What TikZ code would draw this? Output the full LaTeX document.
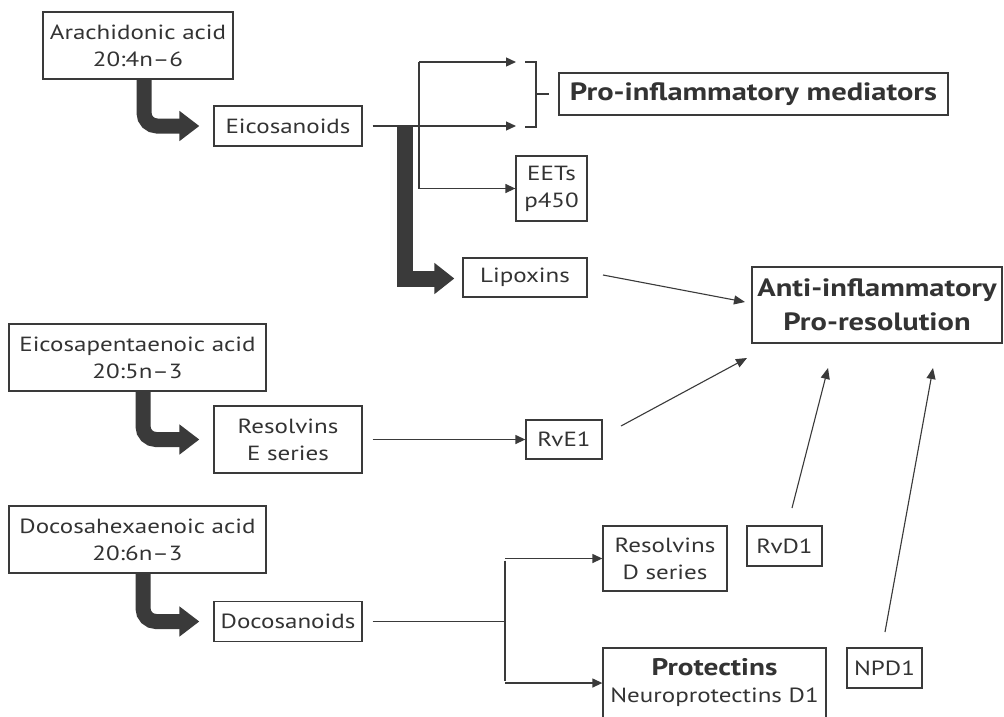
\documentclass[tikz,border=0pt]{standalone}
\usepackage{fontspec}
\setmainfont{PT Sans}[FakeStretch=1.22]
\usetikzlibrary{arrows.meta}
\definecolor{ink}{HTML}{3A3A3A}
\definecolor{txt}{HTML}{333333}

\begin{document}
\begin{tikzpicture}[x=1pt,y=-1pt,
  box/.style={draw=ink, line width=1.3pt, text=txt, align=center, inner sep=0pt,
    font=\fontsize{20.5}{27}\selectfont},
  boldbox/.style={box, font=\fontsize{25}{34}\selectfont\bfseries},
  conn/.style={draw=ink, line width=1.3pt, -{Triangle[length=10pt,width=9pt]}},
  slim/.style={draw=ink, line width=1.1pt, -{Triangle[length=11pt,width=9pt]}},
  plain/.style={draw=ink, line width=1.3pt},
  fat/.style={draw=ink, line width=15pt, rounded corners=13pt,
    -{Triangle[length=20pt,width=29pt]}},
  fatsquare/.style={draw=ink, line width=16pt, line join=miter,
    -{Triangle[length=20pt,width=30pt]}}]

\useasboundingbox (0,0) rectangle (1004,716);
\fill[white] (0,0) rectangle (1004,716);
\clip (0,0) rectangle (1004,716);

% ---------- boxes ----------
\node[box, minimum width=190pt, minimum height=67pt] (ara) at (138,45.5) {Arachidonic acid\\20:4n–6};
\node[box, minimum width=148pt, minimum height=40pt] (eic) at (288,126) {Eicosanoids};
\node[boldbox, minimum width=389pt, minimum height=42pt] (pro) at (753.5,94) {Pro-inflammatory mediators};
\node[box, minimum width=71pt, minimum height=65pt] (eets) at (551.5,188.5) {EETs\\p450};
\node[box, minimum width=124pt, minimum height=39pt] (lip) at (525,277.5) {Lipoxins};
\node[boldbox, minimum width=250pt, minimum height=76pt] (anti) at (877,305) {Anti-inflammatory\\Pro-resolution};

\node[box, minimum width=257pt, minimum height=67pt] (epa) at (137.5,357.5) {Eicosapentaenoic acid\\20:5n–3};
\node[box, minimum width=148pt, minimum height=67pt] (rese) at (288,439.5) {Resolvins\\E series};
\node[box, minimum width=76pt, minimum height=39pt] (rve) at (564,439.5) {RvE1};

\node[box, minimum width=257pt, minimum height=67pt] (dha) at (137.5,539.5) {Docosahexaenoic acid\\20:6n–3};
\node[box, minimum width=148pt, minimum height=40pt] (doc) at (288,621.5) {Docosanoids};
\node[box, minimum width=124pt, minimum height=65pt] (resd) at (665,558.5) {Resolvins\\D series};
\node[box, minimum width=75pt, minimum height=40pt] (rvd) at (784.5,546) {RvD1};
\node[box, minimum width=223pt, minimum height=70pt] (prot) at (714.5,683)
  {{\fontsize{24}{28}\selectfont\bfseries Protectins}\\Neuroprotectins D1};
\node[box, minimum width=75pt, minimum height=40pt] (npd) at (884.5,668) {NPD1};

% ---------- thick conversion arrows ----------
\draw[fat] (ara.south -| 144,0) -- (144,126) -- ([xshift=-14pt]eic.west);
\draw[fat] (epa.south -| 143,0) -- (143,439.5) -- ([xshift=-14pt]rese.west);
\draw[fat] (dha.south -| 143,0) -- (143,621.5) -- ([xshift=-14pt]doc.west);
\draw[fatsquare] (405,126) -- (405,278.5) -- ([xshift=-8pt]lip.west |- 0,278.5);

% ---------- eicosanoid branches ----------
\coordinate (t1) at (419,62);
\coordinate (t3) at (419,188.5);
\coordinate (p1) at (516,62);
\coordinate (p2) at (516,126);
\draw[conn] ([xshift=10pt]eic.east) -- (p2);
\draw[plain] (t1) -- (t3);
\draw[conn] (t1) -- (p1);
\draw[conn] (t3) -- (eets.west);

% bracket grouping the two upper outputs
\coordinate (b1) at (525,62);
\coordinate (b2) at (536,62);
\coordinate (b3) at (536,127);
\coordinate (b4) at (525,127);
\coordinate (bm) at (536,94);
\coordinate (bt) at (549,94);
\draw[plain] (b1) -- (b2) -- (b3) -- (b4);
\draw[plain] (bm) -- (bt);

% ---------- resolvin E ----------
\draw[conn] ([xshift=10pt]rese.east) -- (rve.west);

% ---------- docosanoid branches ----------
\coordinate (d0) at (505,621.5);
\coordinate (d1) at (505,558.5);
\coordinate (d2) at (505,683);
\draw[plain] ([xshift=10pt]doc.east) -- (d0);
\draw[plain] ([yshift=-2pt]d1) -- ([yshift=2pt]d2);
\draw[conn] (d1) -- (resd.west);
\draw[conn] (d2) -- (prot.west);

% ---------- pro-resolving arrows ----------
\coordinate (l0) at (603,275);
\coordinate (l1) at (745,302);
\coordinate (e0) at (621,426);
\coordinate (e1) at (747,358);
\coordinate (r0) at (792,508);
\coordinate (r1) at (828,368);
\coordinate (n0) at (885,632);
\coordinate (n1) at (933,368);
\draw[slim] (l0) -- (l1);
\draw[slim] (e0) -- (e1);
\draw[slim] (r0) -- (r1);
\draw[slim] (n0) -- (n1);
\end{tikzpicture}
\end{document}
